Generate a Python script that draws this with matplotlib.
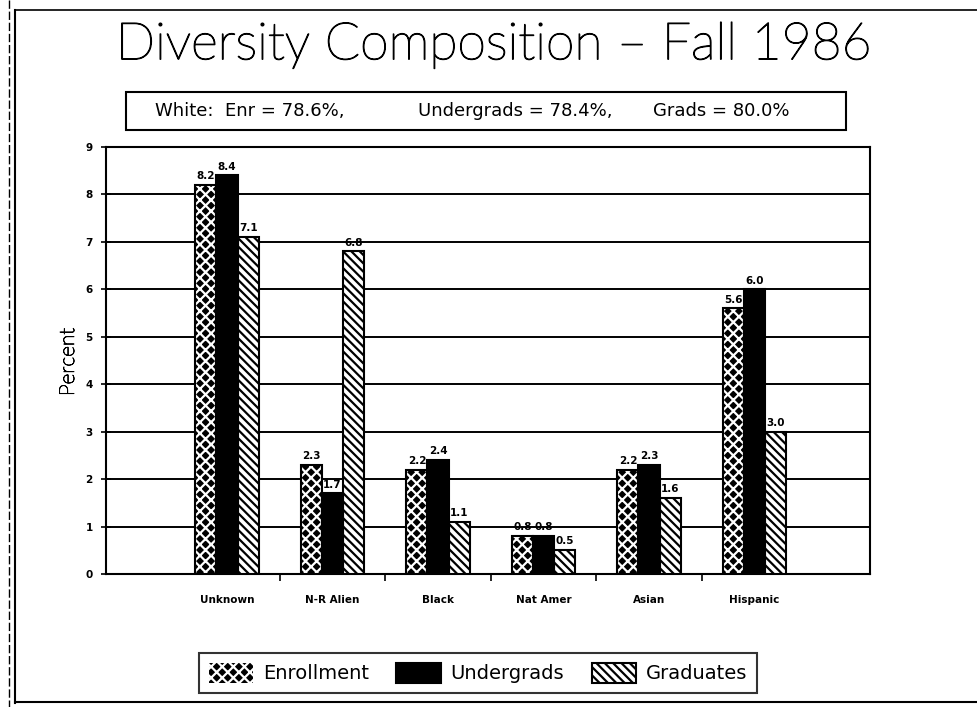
import matplotlib
matplotlib.use('Agg')
import matplotlib.pyplot as plt
from matplotlib.patches import Rectangle, Patch
from matplotlib.lines import Line2D
import matplotlib.patheffects as pe
import numpy as np

categories = ["Unknown", "N-R Alien", "Black", "Nat Amer", "Asian", "Hispanic"]
enrollment = [8.2, 2.3, 2.2, 0.8, 2.2, 5.6]
undergrads = [8.4, 1.7, 2.4, 0.8, 2.3, 6.0]
graduates = [7.1, 6.8, 1.1, 0.5, 1.6, 3.0]
series_names = ["Enrollment", "Undergrads", "Graduates"]
yticks = list(range(0, 10))
title = "Diversity Composition \u2013 Fall 1986"
subtitle_parts = ["White:  Enr = 78.6%,", "Undergrads = 78.4%,", "Grads = 80.0%"]
ylabel = "Percent"

FONT = ['Lato', 'DejaVu Sans']
plt.rcParams['font.family'] = FONT
plt.rcParams['hatch.linewidth'] = 1.6

W, H = 978, 707
fig = plt.figure(figsize=(W / 100, H / 100), dpi=100)

def fx(px):
    return px / W

def fy(py):
    return 1 - py / H

ax = fig.add_axes([fx(106), fy(574), fx(870) - fx(106), fy(147) - fy(574)])

x = np.arange(len(categories))
w = 0.2
series = [enrollment, undergrads, graduates]
fills = [dict(facecolor='black', edgecolor='white', hatch='xxx'),
         dict(facecolor='black', edgecolor='black', hatch=None),
         dict(facecolor='white', edgecolor='black', hatch='\\\\\\\\')]

for i, (vals, st) in enumerate(zip(series, fills)):
    pos = x + (i - 1) * w
    ax.bar(pos, vals, width=w, linewidth=0, zorder=3, **st)
    ax.bar(pos, vals, width=w, fill=False, edgecolor='black', linewidth=1.5, zorder=4)
    for p, v in zip(pos, vals):
        ax.text(p, v + 0.08, f"{v:.1f}", ha='center', va='bottom', fontsize=7.5,
                fontweight='bold', family=['DejaVu Sans'], zorder=5)

ax.set_xlim(-1.147, 6.095)
ax.set_ylim(0, 9)
ax.set_yticks(yticks)
ax.set_yticklabels([str(t) for t in yticks], fontsize=7.5, fontweight='bold', family=['DejaVu Sans'])
ax.yaxis.grid(True, color='black', linewidth=1.4)
ax.set_axisbelow(True)
ax.tick_params(axis='y', direction='inout', length=7, width=1.2, pad=6)

ax.set_xticks(x[:-1] + 0.5)
ax.set_xticklabels([''] * (len(x) - 1))
ax.tick_params(axis='x', which='major', direction='out', length=5, width=1.2)
ax.set_xticks(x, categories, minor=True)
ax.tick_params(axis='x', which='minor', length=0, pad=15, labelsize=7.5)
for lab in ax.get_xticklabels(minor=True):
    lab.set_fontweight('bold')
    lab.set_family(['DejaVu Sans'])

for s in ax.spines.values():
    s.set_linewidth(1.5)

fig.text(fx(68), fy(362), ylabel, rotation=90, ha='center', va='center', fontsize=15,
         fontweight='light', path_effects=[pe.withStroke(linewidth=0.6, foreground='black')])

# title
fig.text(fx(493), fy(45), title, ha='center', va='center', fontsize=37.2, fontweight='light',
         path_effects=[pe.withStroke(linewidth=0.9, foreground='black')])

# subtitle box
fig.add_artist(Rectangle((fx(126), fy(130)), fx(846) - fx(126), fy(92) - fy(130),
                         transform=fig.transFigure, fill=False, edgecolor='black', linewidth=1.5))
for part, px in zip(subtitle_parts, [250, 515, 721]):
    fig.text(fx(px), fy(111), part, ha='center', va='center', fontsize=13, family=['DejaVu Sans'])

# legend
handles = [Patch(**st, linewidth=1.5) for st in fills]
handles[0] = Patch(facecolor='black', edgecolor='white', hatch='xxx', linewidth=0)
leg = fig.legend(handles, series_names, loc='center', bbox_to_anchor=(fx(478), fy(673)), ncol=3,
                 prop={'family': ['DejaVu Sans'], 'size': 14}, frameon=True, fancybox=False,
                 edgecolor='black', handlelength=2.3, handleheight=1.2, columnspacing=1.4,
                 handletextpad=0.5, borderpad=0.5)
leg.get_frame().set_linewidth(1.5)

# outer frame
fig.add_artist(Line2D([fx(9), fx(9)], [fy(0), fy(707)], transform=fig.transFigure, color='black', lw=1, ls=(0, (6, 2))))
fig.add_artist(Line2D([fx(15), fx(15)], [fy(10), fy(703)], transform=fig.transFigure, color='black', lw=1.5))
fig.add_artist(Line2D([fx(15), fx(978)], [fy(702), fy(702)], transform=fig.transFigure, color='black', lw=1.5))
fig.add_artist(Line2D([fx(15), fx(978)], [fy(10), fy(10)], transform=fig.transFigure, color='black', lw=1.2))

fig.savefig('out.png', dpi=100)
